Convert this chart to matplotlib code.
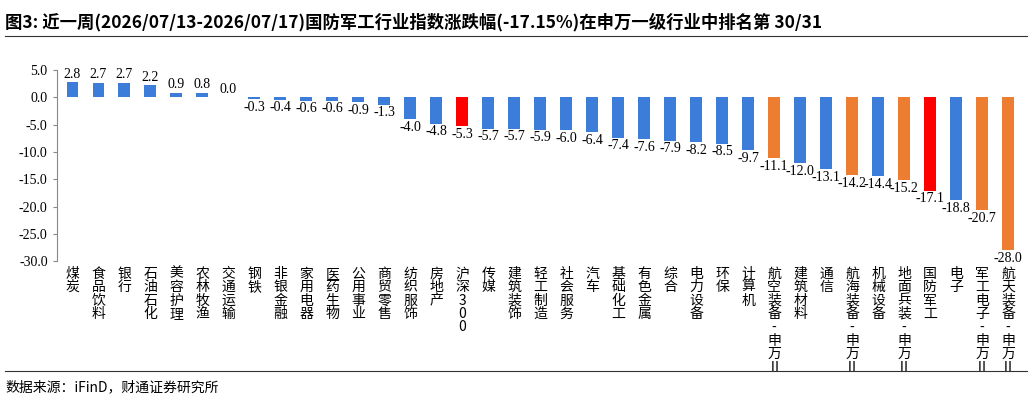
import matplotlib
matplotlib.use("Agg")
import matplotlib.pyplot as plt

plt.rcParams['font.family'] = ['Noto Sans CJK SC', 'DejaVu Sans']

categories = ["煤炭","食品饮料","银行","石油石化","美容护理","农林牧渔","交通运输","钢铁","非银金融","家用电器",
              "医药生物","公用事业","商贸零售","纺织服饰","房地产","沪深300","传媒","建筑装饰","轻工制造","社会服务",
              "汽车","基础化工","有色金属","综合","电力设备","环保","计算机","航空装备-申万II","建筑材料","通信",
              "航海装备-申万II","机械设备","地面兵装-申万II","国防军工","电子","军工电子-申万II","航天装备-申万II"]
values = [2.8,2.7,2.7,2.2,0.9,0.8,0.0,-0.3,-0.4,-0.6,-0.6,-0.9,-1.3,-4.0,-4.8,-5.3,-5.7,-5.7,-5.9,-6.0,
          -6.4,-7.4,-7.6,-7.9,-8.2,-8.5,-9.7,-11.1,-12.0,-13.1,-14.2,-14.4,-15.2,-17.1,-18.8,-20.7,-28.0]

BLUE, ORANGE, RED = "#3C7DD9", "#ED7D31", "#FF0000"
def color(c):
    if c in ("沪深300", "国防军工"):
        return RED
    if "申万II" in c:
        return ORANGE
    return BLUE
colors = [color(c) for c in categories]

fig = plt.figure(figsize=(10.32, 4.01), dpi=100)
ax = fig.add_axes([0.055, 0.349, 0.937, 0.476])
x = list(range(len(categories)))
ax.bar(x, values, width=0.45, color=colors)
ax.set_ylim(-30, 5)
ax.set_xlim(-0.6, len(categories) - 0.4)
ax.set_yticks([5, 0, -5, -10, -15, -20, -25, -30])
ax.set_yticklabels(["5.0", "0.0", "-5.0", "-10.0", "-15.0", "-20.0", "-25.0", "-30.0"],
                   family=['Liberation Serif'], fontsize=10)
for s in ("top", "right", "bottom"):
    ax.spines[s].set_visible(False)
ax.spines["left"].set_color("#888888")
ax.tick_params(axis='y', length=3, color="#888888")
ax.tick_params(axis='x', length=0, pad=4)
ax.set_xticks(x)
ax.set_xticklabels(["\n".join(c.replace("II", "Ⅱ")) for c in categories],
                   fontsize=10, linespacing=0.95, va='top')

for xi, v in zip(x, values):
    if v >= 0:
        ax.text(xi, v + 0.3, f"{v:.1f}", ha='center', va='bottom', fontsize=10, family=['Liberation Serif'])
    else:
        ax.text(xi, v - 0.3, f"{v:.1f}", ha='center', va='top', fontsize=10, family=['Liberation Serif'])

fig.text(0.005, 0.945, "图3: 近一周(2026/07/13-2026/07/17)国防军工行业指数涨跌幅(-17.15%)在申万一级行业中排名第 30/31",
         fontsize=12.5, fontweight='bold', va='center', ha='left',
         family=['Noto Sans CJK SC', 'DejaVu Sans'])
fig.add_artist(plt.Line2D([0.005, 0.995], [0.91, 0.91], color="#333333", lw=0.8))
fig.add_artist(plt.Line2D([0.005, 0.995], [0.075, 0.075], color="#333333", lw=0.8))
fig.text(0.005, 0.035, "数据来源：iFinD，财通证券研究所", fontsize=10, va='center', ha='left')

fig.savefig("out.png", dpi=100)
